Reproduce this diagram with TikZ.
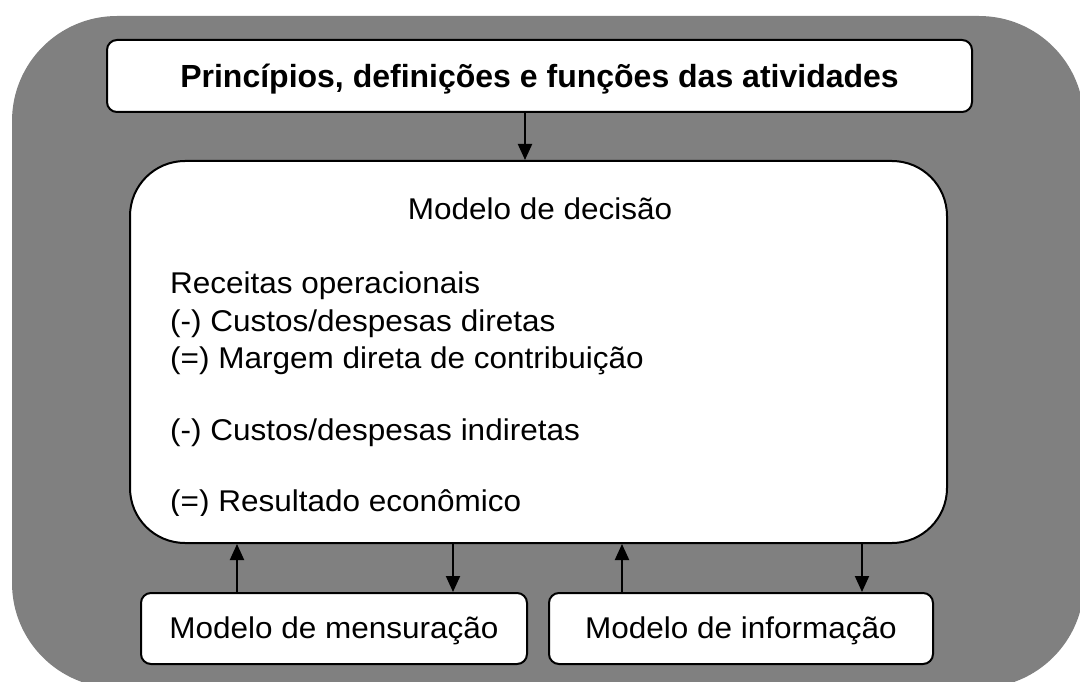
\documentclass[tikz,border=0pt]{standalone}
\usepackage{fontspec}
\setmainfont{Liberation Sans}
\newfontfamily\rfont[FakeStretch=1.05]{Liberation Sans}
\usetikzlibrary{arrows.meta}
\definecolor{bggray}{HTML}{808080}
\begin{document}
\begin{tikzpicture}[x=1pt,y=-1pt,
  box/.style={draw, line width=2pt, fill=white, inner sep=0pt},
  txt/.style={font=\rfont\fontsize{30}{36}\selectfont, inner sep=0pt},
  arr/.style={line width=2pt, -{Triangle[length=16pt,width=14pt]}}]
\useasboundingbox (0,0) rectangle (1080,682);
\clip (0,0) rectangle (1080,682);
\fill[bggray, rounded corners=105pt] (12,16) rectangle (1084,688);
\node[box, rounded corners=10pt, minimum width=865pt, minimum height=72pt,
  text height=24pt, text depth=0pt, font=\bfseries\fontsize{32}{38}\selectfont]
  (title) at (539.5,76) {Princípios, definições e funções das atividades};
\node[box, rounded corners=55pt, minimum width=817pt, minimum height=382pt] (main) at (538.5,352) {};
\node[txt, anchor=base] (dec) at (540,219) {Modelo de decisão};
\node[txt, anchor=base west] (l1) at (170,293) {Receitas operacionais};
\node[txt, anchor=base west] (l2) at (170,331) {(-) Custos/despesas diretas};
\node[txt, anchor=base west] (l3) at (170,368) {(=) Margem direta de contribuição};
\node[txt, anchor=base west] (l4) at (170,440) {(-) Custos/despesas indiretas};
\begin{scope}
\clip (130,161) rectangle (947,515);
\node[txt, anchor=base west] (l5) at (170,511.5) {(=) Resultado econômico};
\end{scope}
\node[box, rounded corners=10pt, minimum width=386pt, minimum height=71pt,
  text height=20pt, text depth=1pt, txt] (mens) at (334,628.5) {Modelo de mensuração};
\node[box, rounded corners=10pt, minimum width=384pt, minimum height=71pt,
  text height=20pt, text depth=1pt, txt] (info) at (741,628.5) {Modelo de informação};
\draw[arr] (title.south -| 525,0) -- (main.north -| 525,0);
\draw[arr] (mens.north -| 237,0) -- (main.south -| 237,0);
\draw[arr] (main.south -| 453,0) -- (mens.north -| 453,0);
\draw[arr] (info.north -| 622,0) -- (main.south -| 622,0);
\draw[arr] (main.south -| 862,0) -- (info.north -| 862,0);
\end{tikzpicture}
\end{document}
